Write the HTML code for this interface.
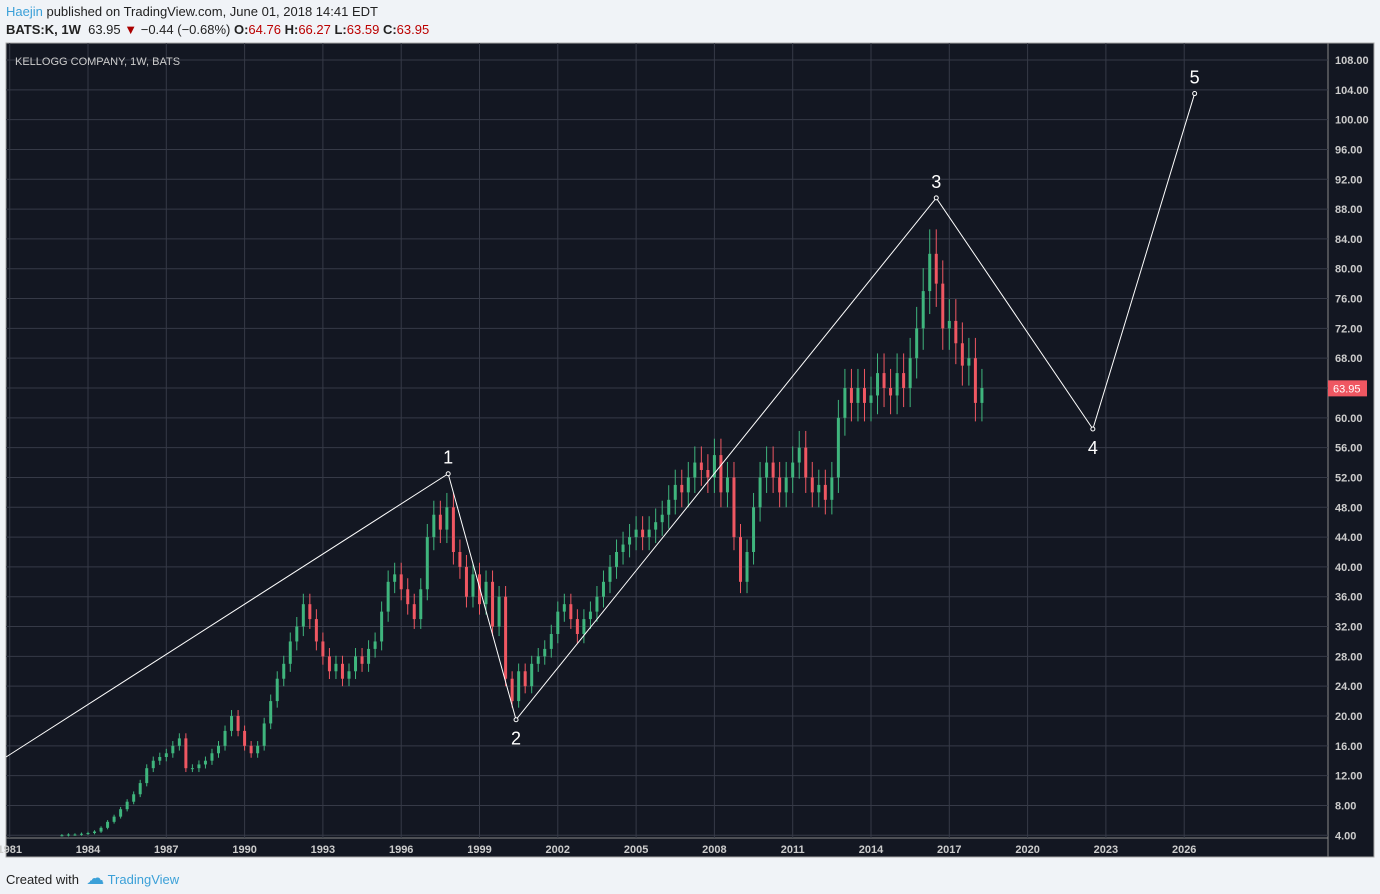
<!DOCTYPE html>
<html><head><meta charset="utf-8">
<style>
body{margin:0;width:1380px;height:894px;background:#f0f3f7;font-family:"Liberation Sans",sans-serif;overflow:hidden;position:relative}
#hdr1{position:absolute;left:6px;top:4px;font-size:13px;color:#222}
#hdr2{position:absolute;left:6px;top:22px;font-size:13px;color:#222}
#foot{position:absolute;left:6px;top:868px;font-size:13px;color:#222}
svg{position:absolute;left:0;top:0}
</style></head><body>
<div id="hdr1"><span style="color:#3ba0d8">Haejin</span> published on TradingView.com, June 01, 2018 14:41 EDT</div>
<div id="hdr2"><b>BATS:K, 1W</b>&nbsp; 63.95 <span style="color:#a00">▼</span> −0.44 (−0.68%) <b>O:</b><span style="color:#b00">64.76</span> <b>H:</b><span style="color:#b00">66.27</span> <b>L:</b><span style="color:#b00">63.59</span> <b>C:</b><span style="color:#b00">63.95</span></div>
<div id="foot">Created with &nbsp;<span style="color:#3ba0d8;font-size:18px">☁</span> <span style="color:#3ba0d8">TradingView</span></div>
<svg id="chart" width="1380" height="894"></svg>
<script>
const yearTicks=[1981,1984,1987,1990,1993,1996,1999,2002,2005,2008,2011,2014,2017,2020,2023,2026];
const priceTicks=[4,8,12,16,20,24,28,32,36,40,44,48,52,56,60,64,68,72,76,80,84,88,92,96,100,104,108];
const startYear=1983;
const closes=[4.0,4.1,4.1,4.2, 4.3,4.5,5,5.8, 6.5,7.5,8.5,9.5, 11,13,14,14.5, 15,16,17,13, 13,13.5,14,15,
16,18,20,18, 16,15,16,19, 22,25,27,30, 32,35,33,30, 28,26,27,25, 26,28,27,29, 30,34,38,39, 37,35,33,37,
44,47,45,48, 42,40,36,39, 35,38,32,36, 25,22,26,24, 27,28,29,31, 34,35,33,31, 33,34,36,38, 40,42,43,44,
45,44,45,46, 47,49,51,50, 52,54,53,52, 55,50,52,44, 38,42,48,52, 54,52,50,52, 54,56,52,50, 51,49,52,60,
64,62,64,62, 63,66,64,63, 66,64,68,72, 77,82,78,72, 73,70,67,68, 62,64];
const waveYears=[1980.86,1997.8,2000.4,2016.5,2022.5,2026.4];
const wavePrices=[14.5,52.5,19.5,89.5,58.5,103.5];
const waveLabels=["","1","2","3","4","5"];
const lastPrice=63.95;

const NS="http://www.w3.org/2000/svg";
const svg=document.getElementById('chart');
const X=y=>88+(y-1984)*26.1;
const Y=p=>60+(108-p)*7.4545;
function el(t,a){const e=document.createElementNS(NS,t);for(const k in a)e.setAttribute(k,a[k]);svg.appendChild(e);return e;}
const bg=el('rect',{x:6,y:43,width:1368,height:814,fill:'#131722',stroke:'#aaa'});


el('line',{x1:6,y1:838,x2:1328,y2:838,stroke:'#888'});
el('line',{x1:1328,y1:43,x2:1328,y2:857,stroke:'#888'});
priceTicks.forEach(p=>{
 const l=el('line',{x1:6,y1:Y(p),x2:1328,y2:Y(p),stroke:'#363a47'});
 
 
 const t=el('text',{x:1335,y:Y(p)+4,fill:'#ccc','font-size':11,'font-weight':'bold'});
 t.textContent=p.toFixed(2);
 
 
});
yearTicks.forEach(yr=>{
 const l=el('line',{x1:X(yr),y1:43,x2:X(yr),y2:838,stroke:'#363a47'});
 
 
 const t=el('text',{x:X(yr),y:853,fill:'#ccc','font-size':11,'font-weight':'bold','text-anchor':'middle'});
 t.textContent=yr;
 
 
});
const ttl=el('text',{x:15,y:65,fill:'#ccc','font-size':11});
ttl.textContent='KELLOGG COMPANY, 1W, BATS';


closes.forEach((c,i)=>{
 const o=i?closes[i-1]:c;
 const yr=startYear+i*0.25;
 const up=c>=o, col=up?'#3fb57d':'#ef5762';
 const hi=Math.max(o,c)*1.04, lo=Math.min(o,c)*0.96;
 const w=el('line',{x1:X(yr),y1:Y(hi),x2:X(yr),y2:Y(lo),stroke:col});
 
 
 const b=el('rect',{x:X(yr)-1.5,y:Y(Math.max(o,c)),width:3,height:Math.max(1,Y(Math.min(o,c))-Y(Math.max(o,c))),fill:col});
 
 
});
const pts=waveYears.map((y,i)=>X(y)+','+Y(wavePrices[i])).join(' ');
const wl=el('polyline',{points:pts,fill:'none',stroke:'#fff','stroke-width':1});


waveYears.forEach((y,i)=>{
 if(!waveLabels[i])return;
 el('circle',{cx:X(y),cy:Y(wavePrices[i]),r:2,fill:'#131722',stroke:'#fff'});
 const below=(i===2||i===4);
 const t=el('text',{x:X(y),y:Y(wavePrices[i])+(below?25:-10),fill:'#fff','font-size':18,'text-anchor':'middle'});
 t.textContent=waveLabels[i];
 
 
});
const pl=el('rect',{x:1328,y:Y(lastPrice)-8,width:39,height:16,fill:'#ef5762'});


const pt=el('text',{x:1333,y:Y(lastPrice)+4,fill:'#fff','font-size':11});
pt.textContent=lastPrice.toFixed(2);


</script>
</body></html>
